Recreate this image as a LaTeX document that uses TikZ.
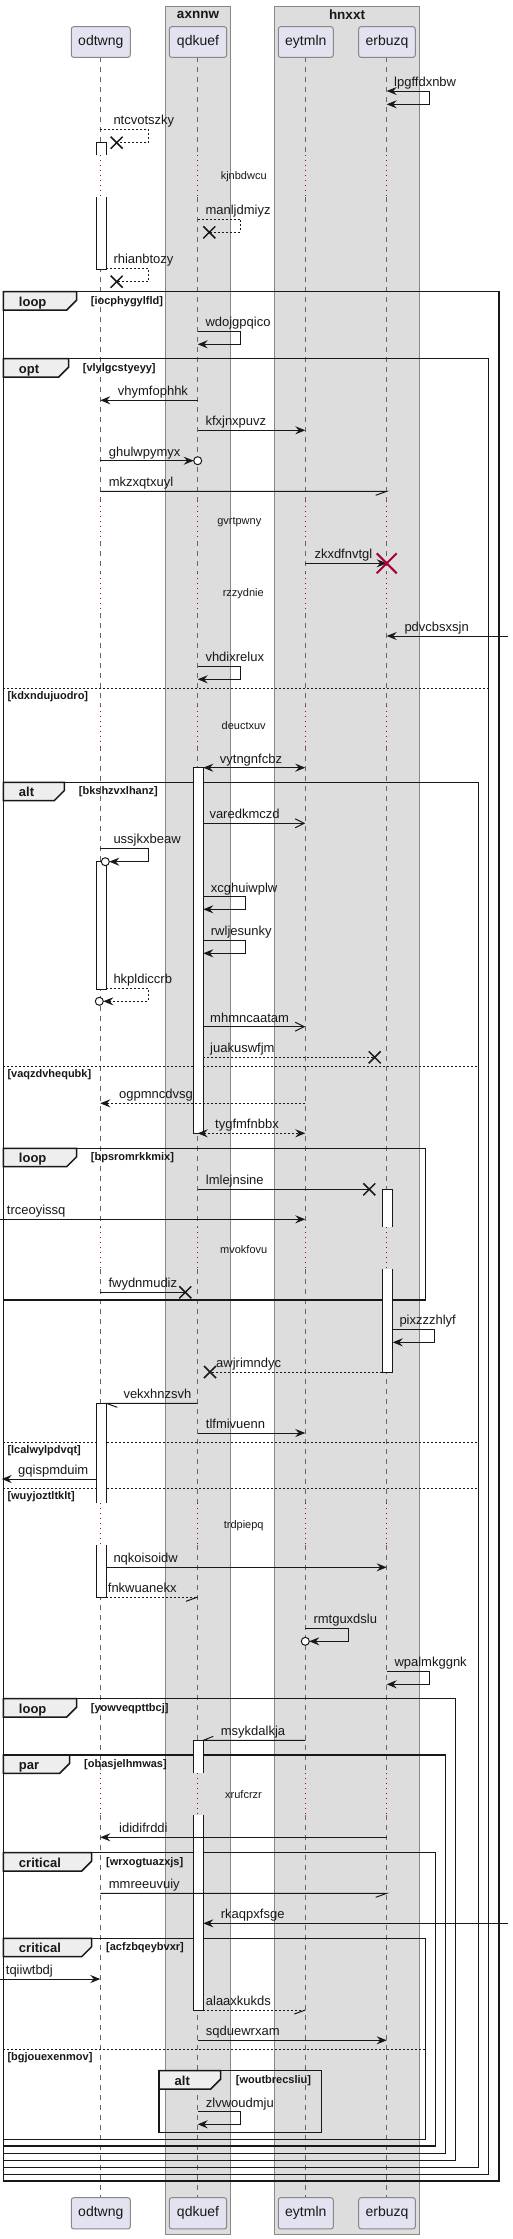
\documentclass[tikz,border=0pt]{standalone}
\usepackage{fontspec}
\setmainfont{Liberation Sans}
\usetikzlibrary{arrows.meta}
\definecolor{ink}{HTML}{181818}
\definecolor{crim}{HTML}{A80036}
\definecolor{partfill}{HTML}{E2E2F0}
\definecolor{partdraw}{HTML}{888888}
\definecolor{boxfill}{HTML}{DDDDDD}
\definecolor{boxdraw}{HTML}{888888}
\definecolor{tabfill}{HTML}{EEEEEE}
\definecolor{lifegray}{HTML}{666666}
\tikzset{
 lifel/.style={draw=lifegray, line width=0.9pt, dash pattern=on 5pt off 5pt},
 delayl/.style={draw=crim, line width=1pt, dash pattern=on 1pt off 4pt},
 msg/.style={draw=ink, line width=1pt},
 dsh/.style={dash pattern=on 2pt off 2pt},
 arr/.style={-{Stealth[length=10pt,width=8pt,inset=3.5pt]}},
 biarr/.style={{Stealth[length=10pt,width=8pt,inset=3.5pt]}-{Stealth[length=10pt,width=8pt,inset=3.5pt]}},
 thinarr/.style={-{Straight Barb[length=9pt,width=9pt]}},
 lbl/.style={font=\fontsize{13}{15}\selectfont, text=ink, inner sep=0pt, anchor=base west},
 dlbl/.style={font=\fontsize{11}{13}\selectfont, text=ink, inner sep=0pt},
 part/.style={draw=partdraw, fill=partfill, rounded corners=2.5pt, line width=1pt, font=\fontsize{14}{16}\selectfont, text=ink, inner sep=0pt},
 ttl/.style={font=\bfseries\fontsize{13.5}{15}\selectfont, text=ink, inner sep=0pt},
 frm/.style={draw=ink, line width=1.5pt},
 sep/.style={draw=ink, line width=1pt, dash pattern=on 2pt off 2pt},
 kw/.style={font=\bfseries\fontsize{13}{15}\selectfont, text=ink, inner sep=0pt, anchor=base west},
 cnd/.style={font=\bfseries\fontsize{11}{13}\selectfont, text=ink, inner sep=0pt, anchor=base west},
 bar/.style={fill=white, draw=ink, line width=1pt},
 lostx/.style={draw=ink, line width=1.5pt},
 destx/.style={draw=crim, line width=2pt},
 boxbg/.style={fill=boxfill, draw=boxdraw, line width=1pt},
 ring/.style={draw=ink, line width=1pt, fill=white},
}
\newcommand{\lostX}[2]{\draw[lostx] (#1-6,#2-6) -- (#1+6,#2+6) (#1-6,#2+6) -- (#1+6,#2-6);}
\newcommand{\destX}[2]{\draw[destx] (#1-10,#2-10) -- (#1+10,#2+10) (#1-10,#2+10) -- (#1+10,#2-10);}
\newcommand{\fTab}[7]{%
 \draw[frm, fill=tabfill] (#2,#3) -- (#4,#3) -- (#4,#3+8.3) -- (#4-10,#3+18.3) -- (#2,#3+18.3) -- cycle;
 \node[kw] (#1-k) at (#2+15.5,#3+14.5) {#5};
 \node[cnd] (#1-c) at (#6,#3+12.5) {#7};
}
\begin{document}
\begin{tikzpicture}[x=1pt,y=-1pt]
\useasboundingbox[fill=white] (0,0) rectangle (513,2239);
% groups
\draw[boxbg] (165.7,6.3) rectangle (230.3,2234);
\draw[boxbg] (274.3,6.3) rectangle (419.3,2234);
\node[ttl] (ga) at (198,15) {axnnw};
\node[ttl] (gb) at (347,15) {hnxxt};
% lifeline coordinates
\coordinate (od) at (100.3,0);
\coordinate (qd) at (197.7,0);
\coordinate (ey) at (305.3,0);
\coordinate (eb) at (386.7,0);
\coordinate (odL) at (96.3,0);
\coordinate (odR) at (106.3,0);
\coordinate (qdL) at (193.7,0);
\coordinate (qdR) at (203.3,0);
\coordinate (ebL) at (382.3,0);
\coordinate (ebR) at (392.7,0);
\coordinate (lft) at (0,0);
\coordinate (rgt) at (508.3,0);
% lifelines
\foreach \c in {od,qd,ey,eb}{
  \foreach \a/\b in {57.3/155.3,197.3/501,541/573,613/705.5,746/1227.3,1269.3/1503.3,1545.3/1773.3,1815/2197.7}
    \draw[lifel] (\c |- 0,\a) -- (\c |- 0,\b);
  \foreach \a/\b in {155.3/197.3,501/541,573/613,705.5/746,1227.3/1269.3,1503.3/1545.3,1773.3/1815}
    \draw[delayl] (\c |- 0,\a) -- (\c |- 0,\b);
}
% participants
\foreach \n/\x/\w/\t in {od/100.8/59/odtwng,qd/198/57.4/qdkuef,ey/305.8/55/eytmln,eb/387/56.6/erbuzq}{
  \node[part, minimum width=\w pt, minimum height=30.7pt] (p\n) at (\x,42) {\t};
  \node[part, minimum width=\w pt, minimum height=31.3pt] (b\n) at (\x,2213.3) {\t};
}
% delays
\node[dlbl] (d1) at (243.7,176.7) {kjnbdwcu};
\node[dlbl] (d2) at (239.3,521.7) {gvrtpwny};
\node[dlbl] (d3) at (243.3,593.3) {rzzydnie};
\node[dlbl] (d4) at (243.7,725.7) {deuctxuv};
\node[dlbl] (d5) at (243.7,1249.3) {mvokfovu};
\node[dlbl] (d6) at (243.7,1525.7) {trdpiepq};
\node[dlbl] (d7) at (243.5,1795) {xrufcrzr};
% frames
\draw[frm] (3.3,291.7) rectangle (499,2181);
\draw[frm] (3.3,358.7) rectangle (488.7,2174.3);
\draw[frm] (3.3,782.3) rectangle (478.7,2167.7);
\draw[frm] (3.3,1148.3) rectangle (425.7,1300);
\draw[frm] (3.3,1698.7) rectangle (455.7,2160.3);
\draw[frm] (3.3,1755) rectangle (445.3,2153.3);
\draw[frm] (3.3,1852.7) rectangle (435.3,2146);
\draw[frm] (3.3,1938.3) rectangle (425.7,2139.3);
\draw[frm] (159,2070.7) rectangle (321.7,2132.7);
\draw[sep] (3.3,688.3) -- (488.7,688.3);
\draw[sep] (3.3,1066.3) -- (478.7,1066.3);
\draw[sep] (3.3,1442) -- (478.7,1442);
\draw[sep] (3.3,1488.3) -- (478.7,1488.3);
\draw[sep] (3.3,2049) -- (425.7,2049);
\node[cnd] (e1) at (7.3,699.3) {[kdxndujuodro]};
\node[cnd] (e2) at (7.3,1077.3) {[vaqzdvhequbk]};
\node[cnd] (e3) at (7.3,1453) {[lcalwylpdvqt]};
\node[cnd] (e4) at (7.3,1499.3) {[wuyjoztltklt]};
\node[cnd] (e5) at (7.3,2060) {[bgjouexenmov]};
\fTab{fa}{3.3}{291.7}{76.7}{loop}{90.7}{[iocphygylfld]}
\fTab{fb}{3.3}{358.7}{68.7}{opt}{82.7}{[vlylgcstyeyy]}
\fTab{fc}{3.3}{782.3}{64.3}{alt}{78.7}{[bkshzvxlhanz]}
\fTab{fd}{3.3}{1148.3}{76.7}{loop}{90.7}{[bpsromrkkmix]}
\fTab{fe}{3.3}{1698.7}{76.7}{loop}{90.7}{[yowveqpttbcj]}
\fTab{ff}{3.3}{1755}{69.7}{par}{84}{[obasjelhmwas]}
\fTab{fg}{3.3}{1852.7}{91.7}{critical}{106}{[wrxogtuazxjs]}
\fTab{fh}{3.3}{1938.3}{91.7}{critical}{106}{[acfzbqeybvxr]}
\fTab{fi}{159}{2070.7}{220.7}{alt}{235.7}{[woutbrecsliu]}
% activation bars
\fill[white] (96.3,142.7) rectangle (106.3,155.3);
\draw[msg] (96.3,155.3) -- (96.3,142.7) -- (106.3,142.7) -- (106.3,155.3);
\fill[white] (96.3,197.3) rectangle (106.3,269.3);
\draw[msg] (96.3,197.3) -- (96.3,269.3) -- (106.3,269.3) -- (106.3,197.3);
\draw[bar] (193.7,767.7) rectangle (203.3,1133.3);
\draw[bar] (96.3,861.7) rectangle (106.3,989.3);
\fill[white] (382.3,1189.3) rectangle (392.7,1227.3);
\draw[msg] (382.3,1227.3) -- (382.3,1189.3) -- (392.7,1189.3) -- (392.7,1227.3);
\fill[white] (382.3,1269.3) rectangle (392.7,1372);
\draw[msg] (382.3,1269.3) -- (382.3,1372) -- (392.7,1372) -- (392.7,1269.3);
\fill[white] (96.3,1403.3) rectangle (106.3,1503.3);
\draw[msg] (96.3,1503.3) -- (96.3,1403.3) -- (106.3,1403.3) -- (106.3,1503.3);
\fill[white] (96.3,1545.3) rectangle (106.3,1597.3);
\draw[msg] (96.3,1545.3) -- (96.3,1597.3) -- (106.3,1597.3) -- (106.3,1545.3);
\fill[white] (193.7,1740.3) rectangle (203.3,1773.3);
\draw[msg] (193.7,1773.3) -- (193.7,1740.3) -- (203.3,1740.3) -- (203.3,1773.3);
\fill[white] (193.7,1815) rectangle (203.3,2010);
\draw[msg] (193.7,1815) -- (193.7,2010) -- (203.3,2010) -- (203.3,1815);
% messages
\draw[msg,biarr] (eb |- 0,91) -- (429.3,91) -- (429.3,104.3) -- (eb |- 0,104.3);
\node[lbl] (m1) at (394,86.5) {lpgffdxnbw};
\draw[msg,dsh] (od |- 0,129.3) -- (148.3,129.3) -- (148.3,142.7) -- (116.7,142.7);
\lostX{116.7}{142.7}
\node[lbl] (m2) at (113.3,124.8) {ntcvotszky};
\draw[msg,dsh] (qd |- 0,219) -- (240.3,219) -- (240.3,232.3) -- (209.3,232.3);
\lostX{209.3}{232.3}
\node[lbl] (m3) at (205.3,214.5) {manljdmiyz};
\draw[msg,dsh] (odR |- 0,268.3) -- (148.3,268.3) -- (148.3,281.7) -- (116.7,281.7);
\lostX{116.7}{281.7}
\node[lbl] (m4) at (113.3,263.8) {rhianbtozy};
\draw[msg,arr] (qd |- 0,331) -- (240.3,331) -- (240.3,344.3) -- (qd |- 0,344.3);
\node[lbl] (m5) at (205.3,326.5) {wdojgpqico};
\draw[msg,arr] (qd |- 0,400.3) -- (od |- 0,400.3);
\node[lbl] (m6) at (117.7,395.8) {vhymfophhk};
\draw[msg,arr] (qd |- 0,430.3) -- (ey |- 0,430.3);
\node[lbl] (m7) at (205.3,425.8) {kfxjnxpuvz};
\draw[msg,arr] (od |- 0,460.7) -- (193.7,460.7);
\draw[ring] (qd |- 0,460.7) circle (4pt);
\node[lbl] (m8) at (108.7,456.2) {ghulwpymyx};
\draw[msg] (od |- 0,491.3) -- (eb |- 0,491.3) -- (375.7,495.3);
\node[lbl] (m9) at (108.7,486.8) {mkzxqtxuyl};
\draw[msg,arr] (ey |- 0,563.3) -- (eb |- 0,563.3);
\destX{386.7}{563.3}
\node[lbl] (m10) at (314.3,558.8) {zkxdfnvtgl};
\draw[msg,arr] (rgt |- 0,636) -- (eb |- 0,636);
\node[lbl] (m11) at (404.3,631.5) {pdvcbsxsjn};
\draw[msg,arr] (qd |- 0,666) -- (240.3,666) -- (240.3,679.3) -- (qd |- 0,679.3);
\node[lbl] (m12) at (205.3,661.5) {vhdixrelux};
\draw[msg,biarr] (qdR |- 0,767.7) -- (ey |- 0,767.7);
\node[lbl] (m13) at (219.7,763.2) {vytngnfcbz};
\draw[msg,thinarr] (qdR |- 0,823.3) -- (ey |- 0,823.3);
\node[lbl] (m14) at (209.3,818.8) {varedkmczd};
\draw[msg,arr] (od |- 0,848.3) -- (148.3,848.3) -- (148.3,861.7) -- (109.3,861.7);
\draw[ring] (105.3,861.7) circle (4pt);
\node[lbl] (m15) at (113.3,843.8) {ussjkxbeaw};
\draw[msg,arr] (qdR |- 0,896.7) -- (245.7,896.7) -- (245.7,909.3) -- (qdR |- 0,909.3);
\node[lbl] (m16) at (210.7,892.2) {xcghuiwplw};
\draw[msg,arr] (qdR |- 0,940.3) -- (245.7,940.3) -- (245.7,953.3) -- (qdR |- 0,953.3);
\node[lbl] (m17) at (210.7,935.8) {rwljesunky};
\draw[msg,dsh,arr] (odR |- 0,988.3) -- (148.3,988.3) -- (148.3,1001.3) -- (103.3,1001.3);
\draw[ring] (99.3,1001.3) circle (4pt);
\node[lbl] (m18) at (113.3,983.8) {hkpldiccrb};
\draw[msg,thinarr] (qdR |- 0,1026.7) -- (ey |- 0,1026.7);
\node[lbl] (m19) at (210,1022.2) {mhmncaatam};
\draw[msg,dsh] (qdR |- 0,1057.3) -- (374.7,1057.3);
\lostX{374.7}{1057.3}
\node[lbl] (m20) at (210,1052.8) {juakuswfjm};
\draw[msg,dsh,arr] (ey |- 0,1103.3) -- (od |- 0,1103.3);
\node[lbl] (m21) at (119,1098.8) {ogpmncdvsg};
\draw[msg,dsh,biarr] (qd |- 0,1133.3) -- (ey |- 0,1133.3);
\node[lbl] (m22) at (215,1128.8) {tygfmfnbbx};
\draw[msg] (qd |- 0,1189.3) -- (369.3,1189.3);
\lostX{369.3}{1189.3}
\node[lbl] (m23) at (205.7,1184.8) {lmlejnsine};
\draw[msg,arr] (lft |- 0,1219.3) -- (ey |- 0,1219.3);
\node[lbl] (m24) at (6.7,1214.8) {trceoyissq};
\draw[msg] (od |- 0,1292.3) -- (185.3,1292.3);
\lostX{185.3}{1292.3}
\node[lbl] (m25) at (108.3,1287.8) {fwydnmudiz};
\draw[msg,arr] (ebR |- 0,1329.3) -- (434.7,1329.3) -- (434.7,1342.3) -- (ebR |- 0,1342.3);
\node[lbl] (m26) at (399.3,1324.8) {pixzzzhlyf};
\draw[msg,dsh] (ebL |- 0,1372) -- (210,1372);
\lostX{210}{1372}
\node[lbl] (m27) at (216,1367.5) {awjrimndyc};
\draw[msg] (qd |- 0,1403.3) -- (odR |- 0,1403.3) -- (117.3,1407.3);
\node[lbl] (m28) at (123.3,1398.8) {vekxhnzsvh};
\draw[msg,arr] (qd |- 0,1433) -- (ey |- 0,1433);
\node[lbl] (m29) at (205.7,1428.5) {tlfmivuenn};
\draw[msg,arr] (odL |- 0,1479) -- (1.7,1479);
\node[lbl] (m30) at (18,1474.5) {gqispmduim};
\draw[msg,arr] (odR |- 0,1567.3) -- (eb |- 0,1567.3);
\node[lbl] (m31) at (113.3,1562.8) {nqkoisoidw};
\draw[msg,dsh] (odR |- 0,1597) -- (qd |- 0,1597);
\draw[msg] (qd |- 0,1597) -- (186,1601.3);
\node[lbl] (m32) at (107.7,1592.5) {fnkwuanekx};
\draw[msg,arr] (ey |- 0,1628.3) -- (348.7,1628.3) -- (348.7,1641.3) -- (309.3,1641.3);
\draw[ring] (ey |- 0,1641.3) circle (4pt);
\node[lbl] (m33) at (313.3,1623.8) {rmtguxdslu};
\draw[msg,arr] (eb |- 0,1671) -- (429.3,1671) -- (429.3,1684.3) -- (eb |- 0,1684.3);
\node[lbl] (m34) at (394.3,1666.5) {wpalmkggnk};
\draw[msg] (ey |- 0,1740.3) -- (qdR |- 0,1740.3) -- (213.3,1736.3);
\node[lbl] (m35) at (220.7,1735.8) {msykdalkja};
\draw[msg,arr] (eb |- 0,1837.3) -- (od |- 0,1837.3);
\node[lbl] (m36) at (119,1832.8) {ididifrddi};
\draw[msg] (od |- 0,1893.3) -- (eb |- 0,1893.3) -- (375.7,1897.3);
\node[lbl] (m37) at (108.7,1888.8) {mmreeuvuiy};
\draw[msg,arr] (rgt |- 0,1923.3) -- (qdR |- 0,1923.3);
\node[lbl] (m38) at (220.7,1918.8) {rkaqpxfsge};
\draw[msg,arr] (lft |- 0,1979) -- (od |- 0,1979);
\node[lbl] (m39) at (5.7,1974.5) {tqiiwtbdj};
\draw[msg,dsh] (qdR |- 0,2010) -- (ey |- 0,2010);
\draw[msg] (ey |- 0,2010) -- (294.3,2014);
\node[lbl] (m40) at (205.7,2005.5) {alaaxkukds};
\draw[msg,arr] (qd |- 0,2040.3) -- (eb |- 0,2040.3);
\node[lbl] (m41) at (205.7,2035.8) {sqduewrxam};
\draw[msg,arr] (qd |- 0,2111.7) -- (240.3,2111.7) -- (240.3,2124.3) -- (qd |- 0,2124.3);
\node[lbl] (m42) at (205.7,2107.2) {zlvwoudmju};
\end{tikzpicture}
\end{document}
